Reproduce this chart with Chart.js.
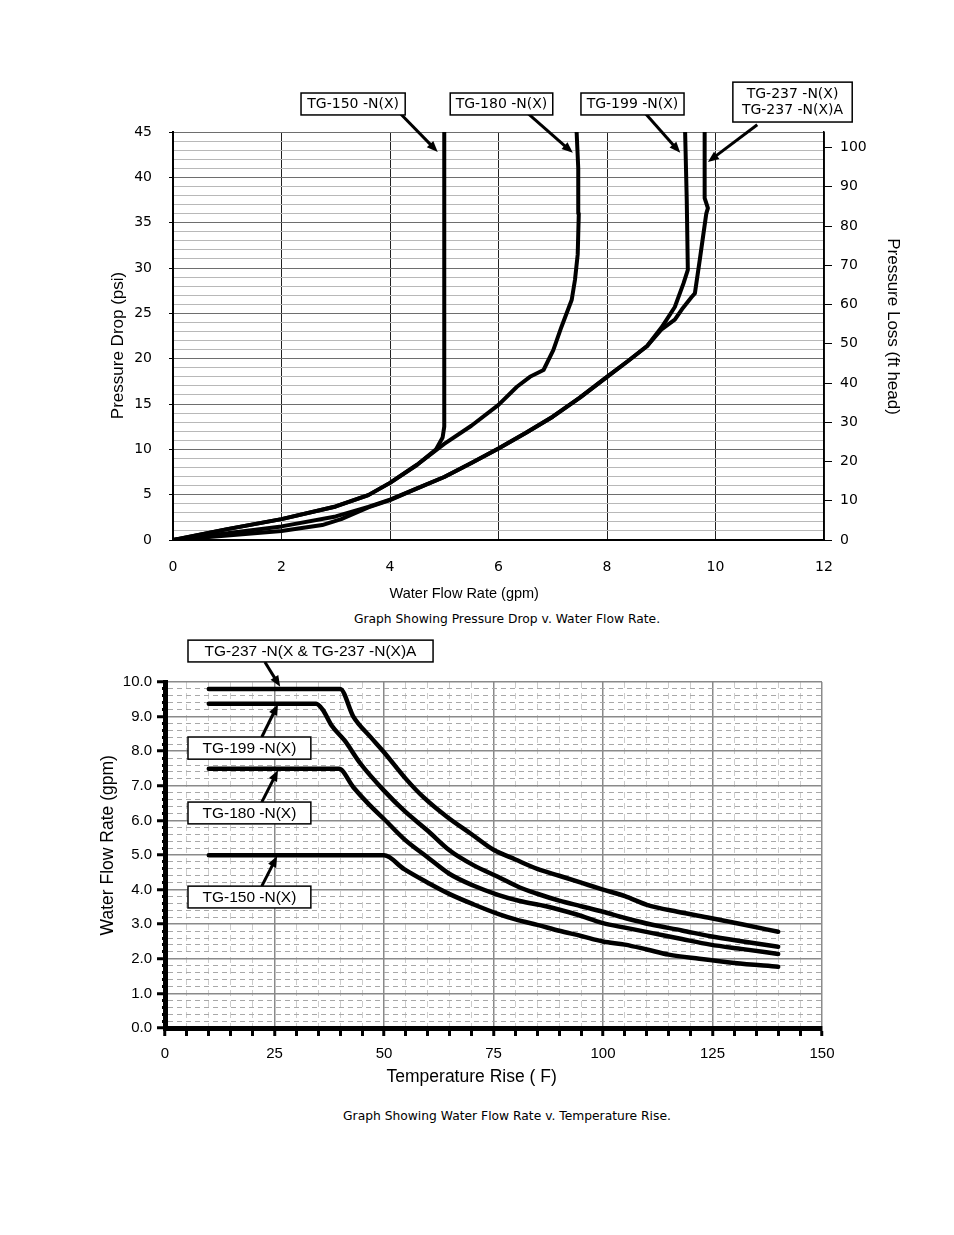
<!DOCTYPE html>
<html>
<head>
<meta charset="utf-8">
<script src="https://cdn.jsdelivr.net/npm/chart.js@4.4.0/dist/chart.umd.min.js"></script>
<style>
  body { margin: 0; background: #fff; width: 954px; height: 1235px; position: relative;
         font-family: "Liberation Sans", Arial, sans-serif; }
  canvas { position: absolute; left: 0; }
  #top { top: 0; }
  #bottom { top: 625px; }
  .cap { position: absolute; left: 30px; width: 954px; text-align: center; font-size: 12.3px;
         font-family: "DejaVu Sans", sans-serif; color: #000; }
</style>
</head>
<body>
<canvas id="top" width="954" height="605"></canvas>
<div class="cap" style="top:612px">Graph Showing Pressure Drop v. Water Flow Rate.</div>
<canvas id="bottom" width="954" height="470"></canvas>
<div class="cap" style="top:1109px">Graph Showing Water Flow Rate v. Temperature Rise.</div>
<script>
// ---- top chart: pressure drop (psi) vs water flow (gpm)
const q150  = [0, 1, 2, 3, 3.6, 4, 4.5, 4.85, 4.97, 5.0, 5.0];
const dp150 = [0, 1.2, 2.3, 3.7, 4.95, 6.3, 8.3, 10.0, 11.3, 12.5, 45];

const q180  = [0, 1, 2, 3, 3.6, 4, 4.5, 5, 5.5, 6, 6.34, 6.58, 6.83, 7.01, 7.16, 7.35, 7.41, 7.46, 7.48, 7.47, 7.44];
const dp180 = [0, 1.2, 2.3, 3.7, 4.95, 6.3, 8.3, 10.6, 12.6, 14.9, 16.9, 18.0, 18.75, 20.95, 23.5, 26.5, 28.7, 31.5, 36, 41, 45];

const q199  = [0, 1, 2, 3, 3.6, 4, 4.5, 5, 5.5, 6, 6.5, 7, 7.5, 8, 8.4, 8.74, 9.0, 9.1, 9.25, 9.41, 9.49, 9.47, 9.44];
const dp199 = [0, 0.75, 1.5, 2.6, 3.65, 4.45, 5.7, 6.95, 8.5, 10.1, 11.8, 13.6, 15.7, 18.0, 19.8, 21.4, 23.4, 24.3, 25.7, 28.3, 29.8, 37.5, 45];

const q237  = [0, 1, 2, 2.75, 3.1, 3.6, 4, 4.5, 5, 5.5, 6, 6.5, 7, 7.5, 8, 8.4, 8.74, 9.0, 9.25, 9.4, 9.56, 9.62, 9.71, 9.83, 9.86, 9.8, 9.8];
const dp237 = [0, 0.5, 1.0, 1.65, 2.3, 3.6, 4.4, 5.7, 6.95, 8.5, 10.1, 11.8, 13.6, 15.7, 18.0, 19.8, 21.4, 23.2, 24.3, 25.6, 26.8, 27.2, 30.9, 36.0, 36.6, 37.7, 45];

const PSI_TO_FT = 2.31;

// ---- bottom chart: water flow (gpm) vs temperature rise (F)
const t237 = [10, 40, 43, 47, 50, 55, 59, 64.5, 70, 75, 80, 85, 90, 95, 100, 105, 110, 117, 124.5, 132, 140];
const f237 = [9.8, 9.8, 9.0, 8.4, 7.97, 7.2, 6.67, 6.09, 5.6, 5.15, 4.87, 4.6, 4.4, 4.2, 4.0, 3.81, 3.56, 3.36, 3.18, 2.99, 2.78];

const t199 = [10, 34.5, 36, 38, 41, 44.7, 50, 54.6, 60, 65, 70.5, 76, 81, 85, 90, 95, 100, 105, 111, 118, 124.5, 132, 140];
const f199 = [9.37, 9.37, 9.2, 8.75, 8.31, 7.63, 6.86, 6.28, 5.7, 5.13, 4.7, 4.37, 4.06, 3.88, 3.68, 3.52, 3.36, 3.18, 2.99, 2.82, 2.65, 2.5, 2.35];

const t180 = [10, 39.7, 43, 46.5, 50, 54.6, 60, 65, 70.5, 76, 81, 87, 94, 100, 105, 111, 118, 124.5, 132, 140];
const f180 = [7.49, 7.49, 6.96, 6.47, 6.04, 5.46, 4.93, 4.45, 4.11, 3.85, 3.67, 3.52, 3.28, 3.03, 2.9, 2.75, 2.57, 2.41, 2.28, 2.14];

const t150 = [10, 50, 54.6, 60, 65, 70.5, 76, 80, 85, 90, 95, 100, 105, 110, 115, 122, 130, 140];
const f150 = [4.99, 4.99, 4.59, 4.2, 3.87, 3.57, 3.3, 3.14, 2.98, 2.81, 2.66, 2.5, 2.41, 2.27, 2.12, 2.0, 1.88, 1.77];

Chart.defaults.font.family = '"Liberation Sans", Arial, sans-serif';
Chart.defaults.color = "#000";

const WIDE = '"DejaVu Sans", sans-serif';
const sp = (n) => "\u00a0".repeat(n); // pads used to nudge centred axis titles

function pts(xs, ys) {
  return xs.map((x, i) => ({ x: x, y: ys[i] }));
}

function curve(label, xs, ys, w, smooth) {
  return {
    label: label,
    data: pts(xs, ys),
    showLine: true,
    borderColor: "#000",
    borderWidth: w,
    pointRadius: 0,
    tension: smooth ? 0.4 : 0,
    cubicInterpolationMode: smooth ? "monotone" : "default",
    borderJoinStyle: "round",
    borderCapStyle: "round",
  };
}

// callout boxes + arrows, placed in data units of each chart
function notesPlugin(notes, font) {
  return {
    id: "notes",
    afterDraw(chart) {
      const ctx = chart.ctx;
      const sx = chart.scales.x, sy = chart.scales.y;
      ctx.save();
      notes.forEach((n) => {
        const ax = sx.getPixelForValue(n.from[0]), ay = sy.getPixelForValue(n.from[1]);
        const bx = sx.getPixelForValue(n.to[0]), by = sy.getPixelForValue(n.to[1]);
        const ang = Math.atan2(by - ay, bx - ax);
        const hl = 11, hw = 4.5;
        ctx.strokeStyle = "#000";
        ctx.lineWidth = 3;
        ctx.beginPath();
        ctx.moveTo(ax, ay);
        ctx.lineTo(bx - Math.cos(ang) * hl * 0.8, by - Math.sin(ang) * hl * 0.8);
        ctx.stroke();
        ctx.fillStyle = "#000";
        ctx.beginPath();
        ctx.moveTo(bx, by);
        ctx.lineTo(bx - Math.cos(ang) * hl - Math.sin(ang) * hw, by - Math.sin(ang) * hl + Math.cos(ang) * hw);
        ctx.lineTo(bx - Math.cos(ang) * hl + Math.sin(ang) * hw, by - Math.sin(ang) * hl - Math.cos(ang) * hw);
        ctx.closePath();
        ctx.fill();

        const x1 = sx.getPixelForValue(n.box[0]), x2 = sx.getPixelForValue(n.box[1]);
        const y1 = sy.getPixelForValue(n.box[2]), y2 = sy.getPixelForValue(n.box[3]);
        ctx.fillStyle = "#fff";
        ctx.fillRect(x1, y1, x2 - x1, y2 - y1);
        ctx.lineWidth = 1.5;
        ctx.strokeRect(x1, y1, x2 - x1, y2 - y1);
        ctx.fillStyle = "#000";
        ctx.font = font.size + "px " + font.family;
        ctx.textAlign = "center";
        ctx.textBaseline = "middle";
        const lh = font.size * 1.15;
        const cy = (y1 + y2) / 2 - ((n.text.length - 1) * lh) / 2;
        n.text.forEach((t, i) => ctx.fillText(t, (x1 + x2) / 2, cy + i * lh + 0.5));
      });
      ctx.restore();
    },
  };
}

const topNotes = [
  { text: ["TG-150 -N(X)"], box: [2.36, 4.28, 49.3, 46.88], from: [4.18, 47.1], to: [4.88, 42.8] },
  { text: ["TG-180 -N(X)"], box: [5.11, 7.0, 49.3, 46.88], from: [6.53, 47.1], to: [7.37, 42.7] },
  { text: ["TG-199 -N(X)"], box: [7.52, 9.42, 49.3, 46.88], from: [8.7, 47.1], to: [9.35, 42.7] },
  { text: ["TG-237 -N(X)", "TG-237 -N(X)A"], box: [10.32, 12.52, 50.5, 46.1], from: [10.77, 45.8], to: [9.86, 41.7] },
];

const bottomNotes = [
  { text: ["TG-237 -N(X & TG-237 -N(X)A"], box: [5.25, 61.2, 11.21, 10.58], from: [22.8, 10.58], to: [26.3, 9.86] },
  { text: ["TG-199 -N(X)"], box: [5.25, 33.3, 8.41, 7.77], from: [22.1, 8.41], to: [25.8, 9.36] },
  { text: ["TG-180 -N(X)"], box: [5.25, 33.3, 6.53, 5.9], from: [22.1, 6.53], to: [25.8, 7.45] },
  { text: ["TG-150 -N(X)"], box: [5.25, 33.3, 4.1, 3.47], from: [22.1, 4.1], to: [25.6, 4.97] },
];

new Chart(document.getElementById("top"), {
  type: "scatter",
  data: {
    datasets: [
      curve("TG-150 -N(X)", q150, dp150, 4, false),
      curve("TG-180 -N(X)", q180, dp180, 4, false),
      curve("TG-199 -N(X)", q199, dp199, 4, false),
      curve("TG-237 -N(X)", q237, dp237, 4, false),
    ],
  },
  options: {
    responsive: false,
    animation: false,
    layout: { padding: { left: 108, right: 51, top: 132, bottom: 2.3 } },
    plugins: { legend: { display: false }, tooltip: { enabled: false } },
    scales: {
      x: {
        type: "linear", min: 0, max: 12,
        ticks: { stepSize: 2, padding: 19, font: { size: 14, family: WIDE }, maxRotation: 0 },
        grid: { color: "#222", lineWidth: 1, drawTicks: false },
        border: { color: "#000", width: 2 },
        title: { display: true, text: "Water Flow Rate (gpm)" + sp(17), font: { size: 14.5 }, padding: 0 },
        afterFit(s) { s.height = 62.7; },
      },
      y: {
        type: "linear", min: 0, max: 45,
        ticks: { stepSize: 1, autoSkip: false, padding: 17, font: { size: 14, family: WIDE },
                 callback: (v) => (v % 5 === 0 ? v : "") },
        grid: {
          color: (c) => (c.tick && c.tick.value % 5 === 0 ? "#6e6e6e" : "#b8b8b8"),
          tickLength: 4,
          tickColor: (c) => (c.tick && c.tick.value % 5 === 0 ? "#000" : "rgba(0,0,0,0)"),
        },
        border: { color: "#000", width: 2 },
        title: { display: true, text: "Pressure Drop (psi)" + sp(4), font: { size: 17 }, padding: 0 },
        afterFit(s) { s.width = 65; },
      },
      y2: {
        type: "linear", position: "right", min: 0, max: 45 * PSI_TO_FT,
        ticks: { stepSize: 10, includeBounds: false, padding: 8, font: { size: 14, family: WIDE } },
        grid: { drawOnChartArea: false, tickLength: 8, tickColor: "#000" },
        border: { color: "#000", width: 1.5 },
        title: { display: true, text: "Pressure Loss (ft head)" + sp(4), font: { size: 17 }, padding: 0 },
        afterFit(s) { s.width = 79; },
      },
    },
  },
  plugins: [notesPlugin(topNotes, { size: 14, family: WIDE })],
});

const isInt = (v) => Math.abs(v - Math.round(v)) < 1e-6;

new Chart(document.getElementById("bottom"), {
  type: "scatter",
  data: {
    datasets: [
      curve("TG-237 -N(X)", t237, f237, 4.5, true),
      curve("TG-199 -N(X)", t199, f199, 4.5, true),
      curve("TG-180 -N(X)", t180, f180, 4.5, true),
      curve("TG-150 -N(X)", t150, f150, 4.5, true),
    ],
  },
  options: {
    responsive: false,
    animation: false,
    layout: { padding: { left: 97.5, right: 132, top: 57, bottom: 7.5 } },
    plugins: { legend: { display: false }, tooltip: { enabled: false } },
    scales: {
      x: {
        type: "linear", min: 0, max: 150,
        ticks: { stepSize: 5, autoSkip: false, padding: 9, font: { size: 15 }, maxRotation: 0,
                 callback: (v) => (v % 25 === 0 ? v : "") },
        grid: {
          color: (c) => (c.tick && c.tick.value % 25 === 0 ? "#8a8a8a" : "#cccccc"),
          lineWidth: (c) => (c.tick && c.tick.value % 25 === 0 ? 1.5 : 1),
          tickLength: 8, tickColor: "#000", tickWidth: 3,
          tickBorderDash: (c) => (c.tick && c.tick.value % 25 === 0 ? [] : [5, 100]),
        },
        border: { color: "#000", width: 5,
                  dash: (c) => (c.tick && c.tick.value % 25 !== 0 ? [6, 5] : []) },
        title: { display: true, text: "Temperature Rise ( F)" + sp(9), font: { size: 17.5 }, padding: 0 },
        afterFit(s) { s.height = 59.5; },
      },
      y: {
        type: "linear", min: 0, max: 10,
        ticks: { stepSize: 0.2, autoSkip: false, padding: 5, font: { size: 15 },
                 callback: (v) => (isInt(v) ? v.toFixed(1) : "") },
        grid: {
          color: (c) => (c.tick && isInt(c.tick.value) ? "#8a8a8a" : "#a8a8a8"),
          lineWidth: (c) => (c.tick && isInt(c.tick.value) ? 1.5 : 1),
          tickLength: 8, tickColor: "#000", tickWidth: 3,
          tickBorderDash: (c) => (c.tick && isInt(c.tick.value) ? [] : [5, 100]),
          tickBorderDashOffset: (c) => (c.tick && isInt(c.tick.value) ? 0 : -5),
        },
        border: { color: "#000", width: 5,
                  dash: (c) => (c.tick && !isInt(c.tick.value) ? [5, 4] : []) },
        title: { display: true, text: sp(4) + "Water Flow Rate (gpm)", font: { size: 17.5 }, padding: 0 },
        afterFit(s) { s.width = 67.5; },
      },
    },
  },
  plugins: [notesPlugin(bottomNotes, { size: 15.5, family: '"Liberation Sans", Arial, sans-serif' })],
});
</script>
</body>
</html>
